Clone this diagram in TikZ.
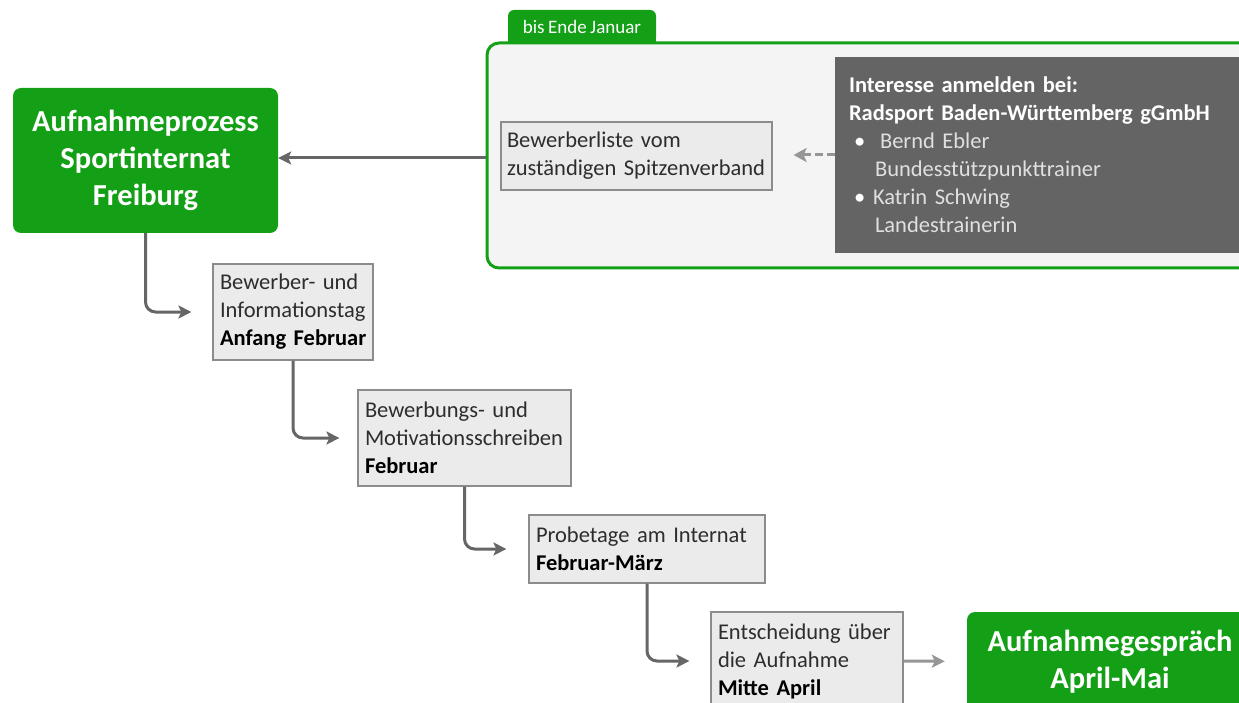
\documentclass[tikz,border=0pt]{standalone}
\usepackage{fontspec}
\setmainfont{Carlito}[WordSpace=0.8]
\usetikzlibrary{arrows.meta}
\definecolor{grn}{RGB}{20,160,22}
\definecolor{boxfill}{RGB}{235,235,235}
\definecolor{boxline}{RGB}{140,140,140}
\definecolor{txt}{RGB}{45,45,45}
\definecolor{darkbox}{RGB}{100,100,100}
\definecolor{panel}{RGB}{244,244,244}
\definecolor{conn}{RGB}{102,102,102}
\definecolor{lconn}{RGB}{150,150,150}
\tikzset{
  stepbox/.style={draw=boxline, line width=1.2pt, fill=boxfill, text=txt,
    font=\fontsize{22.5}{28}\selectfont, align=left, inner xsep=7pt, inner ysep=0pt},
  gbox/.style={fill=grn, rounded corners=8pt, text=white,
    font=\bfseries\fontsize{30.5}{37}\selectfont, align=center, inner sep=0pt},
  flow/.style={draw=conn, line width=3pt, rounded corners=10pt,
    -{Stealth[length=13pt,width=13pt,inset=3pt]}},
}
\begin{document}
\begin{tikzpicture}[x=1pt,y=-1pt]
\useasboundingbox (0,0) rectangle (1239,703);
\clip (0,0) rectangle (1239,703);
\fill[white] (0,0) rectangle (1239,703);

% tab and container
\node[fill=grn, rounded corners=6pt, text=white, font=\fontsize{19}{22}\selectfont,
      minimum width=148pt, minimum height=33pt, inner sep=0pt] (tab) at (582,26.5) {bis Ende Januar};
\fill[grn] ([yshift=8pt]tab.south west) rectangle (tab.south east);
\node[draw=grn, line width=3pt, fill=panel, rounded corners=12pt,
      minimum width=780pt, minimum height=225pt, inner sep=0pt] (panel) at (877,155.5) {};

% dark info box
\node[fill=darkbox, text=white!88!black, font=\fontsize{22.5}{28}\selectfont, align=left,
      text width=382pt, inner xsep=14pt, inner ysep=0pt, minimum height=196pt] (info) at (1040,155)
  {\textbf{\color{white}Interesse anmelden bei:}\\
   \textbf{\color{white}Radsport Baden-Württemberg gGmbH}\\
   \hspace*{5pt}\makebox[26pt][l]{\color{white}\textbullet}Bernd Ebler\\
   \hspace*{26pt}Bundesstützpunkttrainer\\
   \hspace*{5pt}\makebox[19pt][l]{\color{white}\textbullet}Katrin Schwing\\
   \hspace*{26pt}Landestrainerin};

% list box
\node[stepbox, text width=259pt, inner xsep=6pt, minimum height=68pt] (liste) at (636.5,156)
  {Bewerberliste vom\\zuständigen Spitzenverband};

% main green box
\node[gbox, minimum width=265pt, minimum height=145pt] (main) at (145.5,160.5)
  {Aufnahmeprozess\\Sportinternat\\Freiburg};

% steps
\node[stepbox, text width=146pt, minimum height=96pt] (s1) at (293,312)
  {Bewerber- und\\\mbox{Informationstag}\\\mbox{\textbf{\color{black}Anfang Februar}}};
\node[stepbox, text width=199pt, minimum height=96pt] (s2) at (464.5,438)
  {Bewerbungs- und\\\mbox{Motivationsschreiben}\\\textbf{\color{black}Februar}};
\node[stepbox, text width=222pt, minimum height=68pt] (s3) at (647,549)
  {\mbox{Probetage am Internat}\\\textbf{\color{black}Februar-März}};
\node[stepbox, text width=178pt, minimum height=98pt] (s4) at (807,661)
  {\mbox{Entscheidung über}\\die Aufnahme\\\textbf{\color{black}Mitte April}};

% final green box
\node[gbox, minimum width=286pt, minimum height=99pt] (final) at (1110,661.5)
  {Aufnahmegespräch\\April-Mai};

% connectors
\draw[flow, rounded corners=0pt] (panel.west |- 0,158) -- (main.east |- 0,158);
\draw[draw=lconn, line width=3pt, dash pattern=on 8pt off 4pt,
      -{Stealth[length=13pt,width=14pt,inset=3pt]}, shorten >=21pt] (info.west |- 0,155) -- (liste.east |- 0,155);
\draw[flow, shorten >=21pt] (main.south) |- (s1.west);
\draw[flow, shorten >=18pt] (s1.south) |- (s2.west);
\draw[flow, shorten >=22pt] (s2.south) |- (s3.west);
\draw[flow, shorten >=21pt] (s3.south) |- (s4.west);
\draw[draw=lconn, line width=3pt, -{Stealth[length=13pt,width=13pt,inset=3pt]}, shorten >=22pt]
  (s4.east) -- (final.west);
\end{tikzpicture}
\end{document}
